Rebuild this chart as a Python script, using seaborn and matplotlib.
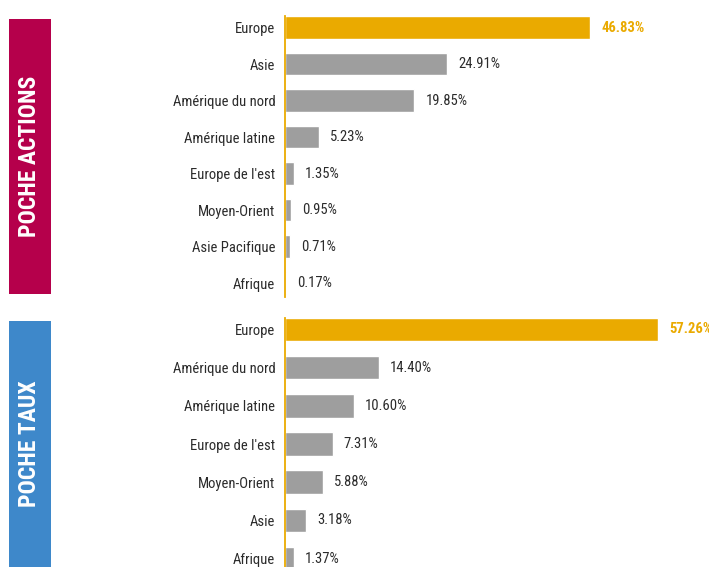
import matplotlib
matplotlib.use('Agg')
import matplotlib.pyplot as plt
import seaborn as sns

# data
actions_regions = ["Europe", "Asie", "Amérique du nord", "Amérique latine",
                   "Europe de l'est", "Moyen-Orient", "Asie Pacifique", "Afrique"]
actions_values = [46.83, 24.91, 19.85, 5.23, 1.35, 0.95, 0.71, 0.17]

taux_regions = ["Europe", "Amérique du nord", "Amérique latine", "Europe de l'est",
                "Moyen-Orient", "Asie", "Afrique"]
taux_values = [57.26, 14.40, 10.60, 7.31, 5.88, 3.18, 1.37]

highlight = "Europe"

GOLD = "#EAAA00"
GREY = "#9E9E9E"
TEXT = "#2B2B2B"
RED = "#B5004B"
BLUE = "#3E88CA"

sns.set_style("white")
plt.rcParams['font.family'] = ['Roboto Condensed', 'DejaVu Sans']

fig = plt.figure(figsize=(7.09, 5.67), dpi=100)

W, H = 709, 567


def px_axes(x0, y0, x1, y1):
    # pixel box (top-left origin) -> figure axes
    return fig.add_axes([x0 / W, 1 - y1 / H, (x1 - x0) / W, (y1 - y0) / H])


def draw_panel(ax, regions, values, ylim):
    palette = {r: (GOLD if r == highlight else GREY) for r in regions}
    sns.barplot(x=values, y=regions, hue=regions, palette=palette, orient='h',
                width=0.62, legend=False, ax=ax, saturation=1)
    for cont, r in zip(ax.containers, regions):
        is_hl = r == highlight
        ax.bar_label(cont, fmt="%.2f%%", padding=8, fontsize=10.5,
                     color=GOLD if is_hl else TEXT,
                     fontweight='bold' if is_hl else 'normal')
    ax.set_xlim(0, 65.1)
    ax.set_ylim(*ylim)
    ax.set_xlabel("")
    ax.set_ylabel("")
    ax.set_xticks([])
    ax.tick_params(axis='y', length=0, pad=7, labelsize=10.5, labelcolor=TEXT)
    for s in ["top", "right", "bottom"]:
        ax.spines[s].set_visible(False)
    ax.spines["left"].set_color(GOLD)
    ax.spines["left"].set_linewidth(1.3)
    ax.set_facecolor("none")


ax_top = px_axes(285, 16, 709, 297)
draw_panel(ax_top, actions_regions, actions_values, (7.38, -0.315))

ax_bot = px_axes(285, 318, 709, 567)
draw_panel(ax_bot, taux_regions, taux_values, (6.22, -0.30))

# coloured side boxes
for (y0, y1, col, label) in [(19, 294, RED, "POCHE ACTIONS"), (321, 567, BLUE, "POCHE TAUX")]:
    box = px_axes(9, y0, 51, y1)
    box.set_facecolor(col)
    box.set_xticks([])
    box.set_yticks([])
    for s in box.spines.values():
        s.set_visible(False)
    box.text(0.5, 0.5, label, rotation=90, ha='center', va='center', color='white',
             fontsize=17, fontweight='bold', transform=box.transAxes)

fig.savefig("out.png", dpi=100)
